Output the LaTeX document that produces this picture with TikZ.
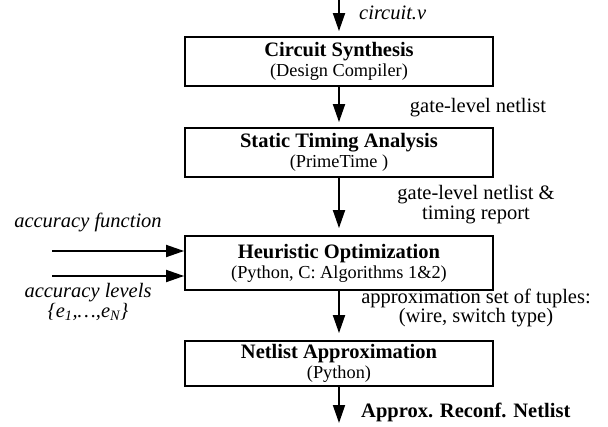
\documentclass[tikz,border=0pt]{standalone}
\usepackage{fontspec}
\setmainfont{Liberation Serif}
\usetikzlibrary{arrows.meta}

\tikzset{
	stage/.style={draw, line width=1.8pt, minimum width=308pt, minimum height=49pt,
		align=center, inner sep=0pt, font=\fontsize{18.3}{20}\selectfont},
	flow/.style={line width=1.8pt, -{Triangle[length=18pt,width=12pt]}},
	note/.style={font=\fontsize{20.5}{22}\selectfont, align=center, inner sep=0pt},
}
\newcommand{\stagetitle}[1]{{\fontsize{20.5}{20}\selectfont\bfseries #1}}

\begin{document}
\begin{tikzpicture}[x=1pt, y=-1pt]
	\useasboundingbox (0,0) rectangle (608,426);

	% the four tool stages
	\node[stage] (synth) at (339,61.5) {\stagetitle{Circuit Synthesis}\\(Design Compiler)};
	\node[stage] (sta) at (339,152.5) {\stagetitle{Static Timing Analysis}\\(PrimeTime )};
	\node[stage, minimum height=54pt] (heur) at (339,263) {\stagetitle{Heuristic Optimization}\\(Python, C: Algorithms 1\&2)};
	\node[stage, minimum height=45pt] (approx) at (339,363.5) {\stagetitle{Netlist Approximation}\\(Python)};

	% free ends of the input and output arrows
	\coordinate (src) at (339,0);
	\coordinate (sink) at (339,428);
	\coordinate (fin) at (52,251);
	\coordinate (lin) at (52,276);

	% main flow
	\draw[flow, shorten >=5pt] (src) -- (synth.north);
	\draw[flow, shorten >=5pt] (synth.south) -- (sta.north);
	\draw[flow, shorten >=7pt] (sta.south) -- (heur.north);
	\draw[flow, shorten >=7pt] (heur.south) -- (approx.north);
	\draw[flow, shorten >=5pt] (approx.south) -- (sink);

	% side inputs
	\draw[flow] (fin) -- (fin -| heur.west);
	\draw[flow] (lin) -- (lin -| heur.west);

	%labels (base = last line)
	\node[note, anchor=base west] (vfile) at (359,19) {\itshape circuit.v};
	\node[note, anchor=base] (net1) at (478,112) {gate-level netlist};
	\node[note, anchor=base] (net2) at (476,219) {gate-level netlist \&\\[-2pt]timing report};
	\node[note, anchor=base] (tuples) at (476,322) {approximation set of tuples:\\[-3pt](wire, switch type)};
	\node[note, anchor=base west] (result) at (361,417) {\bfseries Approx. Reconf. Netlist};

	\node[note, anchor=base] (accf) at (88,227) {\itshape accuracy function};
	\node[note, anchor=base] (accl) at (88,317) {\itshape accuracy levels\\[-2pt]\itshape \{e\textsubscript{1},\ldots,e\textsubscript{N}\}};
\end{tikzpicture}
\end{document}
